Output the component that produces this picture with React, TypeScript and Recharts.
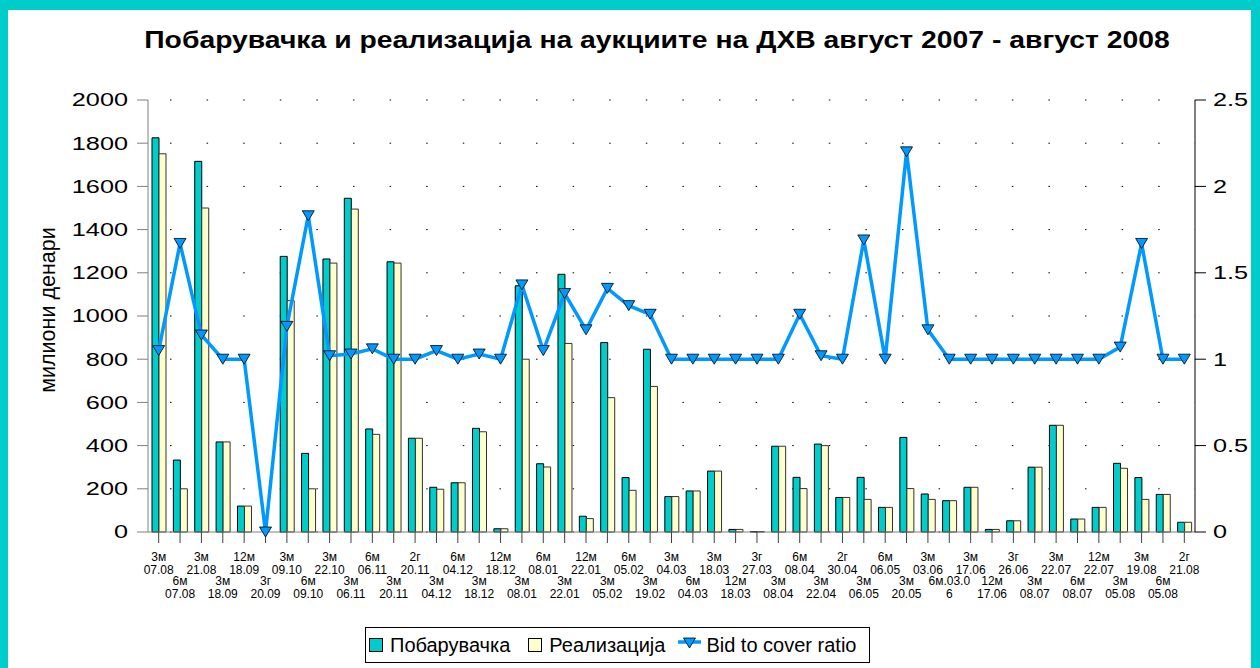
import React from "react";
import { ComposedChart, Bar, Line, XAxis, YAxis, CartesianGrid, Label } from "recharts";

// auction term and date (two-line x labels)
const terms = [
  "3м", "6м", "3м", "3м", "12м", "3г", "3м", "6м", "3м", "3м",
  "6м", "3м", "2г", "3м", "6м", "3м", "12м", "3м", "6м", "3м",
  "12м", "3м", "6м", "3м", "3м", "6м", "3м", "12м", "3г", "3м",
  "6м", "3м", "2г", "3м", "6м", "3м", "3м", "6м.03.0", "3м", "12м",
  "3г", "3м", "3м", "6м", "12м", "3м", "3м", "6м", "2г",
];
const dates = [
  "07.08", "07.08", "21.08", "18.09", "18.09", "20.09", "09.10", "09.10", "22.10", "06.11",
  "06.11", "20.11", "20.11", "04.12", "04.12", "18.12", "18.12", "08.01", "08.01", "22.01",
  "22.01", "05.02", "05.02", "19.02", "04.03", "04.03", "18.03", "18.03", "27.03", "08.04",
  "08.04", "22.04", "30.04", "06.05", "06.05", "20.05", "03.06", "6", "17.06", "17.06",
  "26.06", "08.07", "22.07", "08.07", "22.07", "05.08", "19.08", "05.08", "21.08",
];

// милиони денари
const demand = [
  1825, 333, 1716, 417, 120, 0, 1276, 364, 1264, 1545,
  477, 1251, 434, 207, 228, 480, 15, 1140, 316, 1193,
  73, 877, 252, 846, 164, 190, 282, 12, 2, 397,
  253, 407, 160, 253, 114, 438, 176, 145, 207, 12,
  52, 300, 494, 60, 114, 318, 252, 174, 45,
];
const realized = [
  1751, 200, 1500, 417, 120, 0, 1071, 200, 1245, 1495,
  452, 1245, 434, 198, 228, 464, 15, 800, 301, 873,
  62, 622, 193, 674, 164, 190, 282, 12, 2, 397,
  201, 400, 160, 151, 114, 201, 151, 145, 207, 12,
  52, 300, 494, 60, 114, 295, 151, 174, 45,
];
const ratio = [
  1.05, 1.67, 1.14, 1.0, 1.0, 0, 1.19, 1.83, 1.02, 1.03,
  1.06, 1.0, 1.0, 1.05, 1.0, 1.03, 1.0, 1.43, 1.05, 1.38,
  1.17, 1.41, 1.31, 1.26, 1.0, 1.0, 1.0, 1.0, 1.0, 1.0,
  1.26, 1.02, 1.0, 1.69, 1.0, 2.2, 1.17, 1.0, 1.0, 1.0,
  1.0, 1.0, 1.0, 1.0, 1.0, 1.07, 1.67, 1.0, 1.0,
];

const leftTicks = [0, 200, 400, 600, 800, 1000, 1200, 1400, 1600, 1800, 2000];
const rightTicks = [0, 0.5, 1, 1.5, 2, 2.5];

const data = terms.map((t, i) => ({
  idx: i,
  demand: demand[i],
  realized: realized[i],
  ratio: ratio[i],
}));

const FONT = '"Liberation Sans", Arial, sans-serif';
const TEAL = "#00CCCC";
const CREAM = "#FFFFCC";
const BLUE = "#0099FF";

function XTick(props: any) {
  const { x, y, payload } = props;
  const i = payload.value as number;
  const base = y + (i % 2 ? 40 : 16);
  return (
    <g fontFamily={FONT} fontSize={12} fill="#000">
      <text x={x} y={base} textAnchor="middle">{terms[i]}</text>
      <text x={x} y={base + 12.5} textAnchor="middle">{dates[i]}</text>
    </g>
  );
}

function YTick(props: any) {
  const { x, y, payload, side } = props;
  return (
    <g transform={`translate(${x},${y})`}>
      <text
        transform="scale(1.33,1)"
        textAnchor={side === "left" ? "end" : "start"}
        dominantBaseline="central"
        fontFamily={FONT}
        fontSize={19}
        fill="#000"
      >
        {payload.value}
      </text>
    </g>
  );
}

function Tri(props: any) {
  const { cx, cy, index } = props;
  if (cx == null || cy == null) return null;
  return (
    <polygon
      key={index}
      points={`${cx - 6},${cy - 5} ${cx + 6},${cy - 5} ${cx},${cy + 5}`}
      fill={BLUE}
      stroke="#000"
      strokeWidth={0.8}
    />
  );
}

function LegendBox() {
  const item: React.CSSProperties = { display: "flex", alignItems: "center" };
  const sq = (c: string): React.CSSProperties => ({
    width: 12,
    height: 12,
    background: c,
    border: "1px solid #000",
    marginRight: 7,
  });
  return (
    <div
      style={{
        position: "absolute",
        left: 365,
        top: 627,
        width: 505,
        height: 36,
        boxSizing: "border-box",
        border: "1px solid #000",
        background: "#fff",
        display: "flex",
        alignItems: "center",
        paddingLeft: 3,
        fontFamily: FONT,
        fontSize: 20,
        color: "#000",
      }}
    >
      <div style={item}>
        <div style={sq(TEAL)} />
        <span>Побарувачка</span>
      </div>
      <div style={{ ...item, marginLeft: 18 }}>
        <div style={sq(CREAM)} />
        <span>Реализација</span>
      </div>
      <div style={{ ...item, marginLeft: 13 }}>
        <svg width={23} height={16} style={{ marginRight: 5 }}>
          <line x1={0} y1={5} x2={23} y2={5} stroke={BLUE} strokeWidth={3.5} />
          <polygon points="5.5,1 17.5,1 11.5,11" fill={BLUE} stroke="#000" strokeWidth={0.8} />
        </svg>
        <span>Bid to cover ratio</span>
      </div>
    </div>
  );
}

export default function App() {
  return (
    <div
      style={{
        position: "absolute",
        left: 0,
        top: 0,
        width: 1260,
        height: 668,
        background: TEAL,
        overflow: "hidden",
      }}
    >
      <div
        style={{
          position: "absolute",
          left: 8,
          top: 10,
          width: 1243,
          height: 658,
          background: "#fff",
        }}
      />
      <div
        style={{
          position: "absolute",
          left: 657,
          top: 26,
          transform: "translateX(-50%) scaleX(1.18)",
          whiteSpace: "nowrap",
          fontFamily: FONT,
          fontWeight: "bold",
          fontSize: 24,
          lineHeight: "28px",
          color: "#000",
        }}
      >
        Побарувачка и реализација на аукциите на ДХВ август 2007 - август 2008
      </div>
      <div style={{ position: "absolute", left: 0, top: 0 }}>
        <ComposedChart
          width={1260}
          height={668}
          data={data}
          margin={{ top: 100, right: 5, bottom: 66, left: 20 }}
          barGap={0}
          barSize={7}
        >
          <CartesianGrid
            yAxisId="left"
            vertical={false}
            stroke="#000"
            strokeDasharray="1.5 35.1"
            strokeDashoffset={14.6}
          />
          <XAxis
            dataKey="idx"
            type="category"
            interval={0}
            height={70}
            tickSize={11}
            tickMargin={2}
            axisLine={{ stroke: "#808080" }}
            tickLine={{ stroke: "#404040" }}
            tick={<XTick />}
          />
          <YAxis
            yAxisId="left"
            orientation="left"
            width={128}
            domain={[0, 2000]}
            ticks={leftTicks}
            interval={0}
            tickSize={11}
            tickMargin={9}
            axisLine={{ stroke: "#808080" }}
            tickLine={{ stroke: "#808080" }}
            tick={<YTick side="left" />}
          >
            <Label
              content={() => (
                <text
                  x={48}
                  y={310}
                  transform="rotate(-90 48 310)"
                  textAnchor="middle"
                  dominantBaseline="central"
                  fontFamily={FONT}
                  fontSize={21.5}
                  fill="#000"
                >
                  милиони денари
                </text>
              )}
            />
          </YAxis>
          <YAxis
            yAxisId="right"
            orientation="right"
            width={60}
            domain={[0, 2.5]}
            ticks={rightTicks}
            interval={0}
            tickSize={11}
            tickMargin={7}
            axisLine={{ stroke: "#000" }}
            tickLine={{ stroke: "#000" }}
            tick={<YTick side="right" />}
          />
          <Bar
            yAxisId="left"
            dataKey="demand"
            fill={TEAL}
            stroke="#000"
            strokeWidth={1}
            isAnimationActive={false}
          />
          <Bar
            yAxisId="left"
            dataKey="realized"
            fill={CREAM}
            stroke="#333"
            strokeWidth={1}
            isAnimationActive={false}
          />
          <Line
            yAxisId="right"
            type="linear"
            dataKey="ratio"
            stroke={BLUE}
            strokeWidth={3.5}
            dot={<Tri />}
            activeDot={false}
            isAnimationActive={false}
          />
        </ComposedChart>
      </div>
      <LegendBox />
    </div>
  );
}
